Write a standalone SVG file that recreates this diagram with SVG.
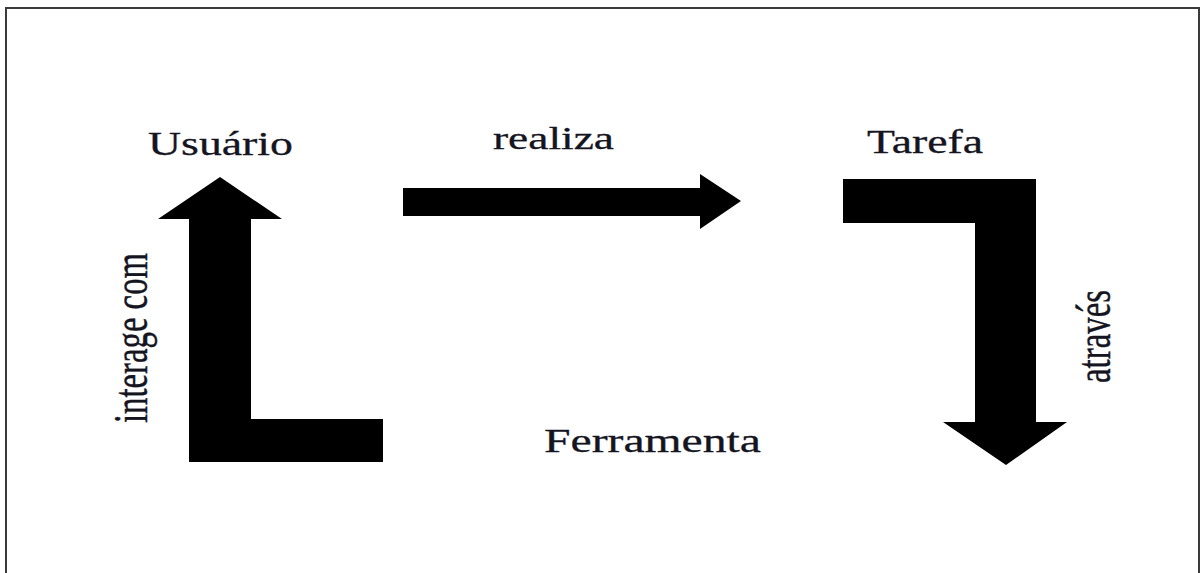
<svg xmlns="http://www.w3.org/2000/svg" width="1202" height="573" viewBox="0 0 1202 573">
<style>
.lbl{font-family:"Liberation Serif","Times New Roman",serif;fill:#15151f;stroke:#15151f;stroke-width:0.3}
.arrow{fill:#000;stroke:none}
.frame{fill:#fff;stroke:#3a3a3a;stroke-width:2}
</style>
<rect class="frame" x="6" y="8" width="1193" height="620"/>
<g id="node-usuario"><text class="lbl" x="148" y="155" font-size="34" textLength="145" lengthAdjust="spacingAndGlyphs">Usuário</text></g>
<g id="node-tarefa"><text class="lbl" x="867" y="153" font-size="33" textLength="116" lengthAdjust="spacingAndGlyphs">Tarefa</text></g>
<g id="node-ferramenta"><text class="lbl" x="544" y="452" font-size="34" textLength="217" lengthAdjust="spacingAndGlyphs">Ferramenta</text></g>
<g id="connectors">
<g id="edge-realiza">
<polygon class="arrow" points="403,188 700,188 700,174 741,201 700,229 700,216 403,216"/>
<text class="lbl" x="493" y="149" font-size="31" textLength="121" lengthAdjust="spacingAndGlyphs">realiza</text>
</g>
<g id="edge-atraves">
<polygon class="arrow" points="843,179 1036,179 1036,422 1067,422 1006,465 943,422 975,422 975,223 843,223"/>
<text class="lbl" font-size="33" textLength="93" lengthAdjust="spacingAndGlyphs" transform="translate(1110,383) scale(1.45,1) rotate(-90)">através</text>
</g>
<g id="edge-interage">
<polygon class="arrow" points="220,177 282,219 251,219 251,419 383,419 383,462 189,462 189,219 158,219"/>
<text class="lbl" font-size="33" textLength="170" lengthAdjust="spacingAndGlyphs" transform="translate(147,423) scale(1.45,1) rotate(-90)">interage com</text>
</g>
</g>
</svg>
